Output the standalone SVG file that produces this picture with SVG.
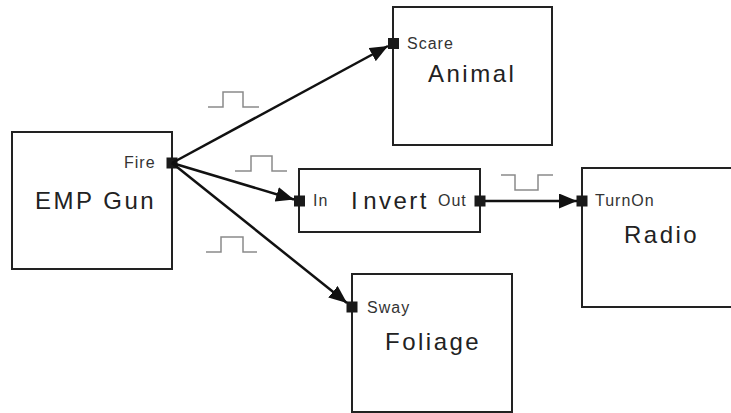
<svg xmlns="http://www.w3.org/2000/svg" width="731" height="413" viewBox="0 0 731 413">
  <style>
    .box { fill: #ffffff; stroke: #222222; stroke-width: 2; }
    .port { fill: #1a1a1a; }
    .plabel { font-family: "Liberation Sans", Arial, sans-serif; font-size: 16px; fill: #333333; letter-spacing: 1px; }
    .title { font-family: "Liberation Sans", Arial, sans-serif; font-size: 24px; fill: #222222; letter-spacing: 2.5px; }
    .wire { stroke: #111111; stroke-width: 2.5; fill: none; marker-end: url(#arrow); }
    .pulse { stroke: #8a8a8a; stroke-width: 1.5; fill: none; }
  </style>
  <defs>
    <marker id="arrow" markerUnits="userSpaceOnUse" markerWidth="19" markerHeight="15" refX="18" refY="7.5" orient="auto">
      <path d="M0,0 L18,7.5 L0,15 z" fill="#111111"/>
    </marker>
  </defs>
  <rect width="731" height="413" fill="#ffffff"/>

  <g id="emp-gun">
    <rect class="box" x="12" y="132" width="160" height="137"/>
    <text class="plabel" x="124" y="168">Fire</text>
    <text class="title" x="35" y="209">EMP Gun</text>
    <rect class="port" x="166.5" y="157.5" width="11" height="11"/>
  </g>

  <g id="animal">
    <rect class="box" x="393" y="7" width="159" height="138"/>
    <text class="plabel" x="407" y="49">Scare</text>
    <text class="title" x="428" y="82">Animal</text>
    <rect class="port" x="388" y="38" width="11" height="11"/>
  </g>

  <g id="invert">
    <rect class="box" x="299" y="169" width="181" height="63"/>
    <text class="plabel" x="313" y="206">In</text>
    <text class="title" x="351" y="209">I<tspan dx="3">nvert</tspan></text>
    <text class="plabel" x="438" y="206">Out</text>
    <rect class="port" x="294" y="195.5" width="11" height="11"/>
    <rect class="port" x="474.5" y="195.5" width="11" height="11"/>
  </g>

  <g id="radio">
    <rect class="box" x="582" y="168" width="160" height="139"/>
    <text class="plabel" x="595" y="206">TurnOn</text>
    <text class="title" x="624" y="243">Radio</text>
    <rect class="port" x="576.5" y="195.5" width="11" height="11"/>
  </g>

  <g id="foliage">
    <rect class="box" x="352" y="274" width="160" height="138"/>
    <text class="plabel" x="367" y="313">Sway</text>
    <text class="title" x="385" y="350">Foliage</text>
    <rect class="port" x="346.5" y="301.5" width="11" height="11"/>
  </g>

  <g id="connectors">
    <line class="wire" x1="172" y1="163" x2="388" y2="46"/>
    <line class="wire" x1="172" y1="163" x2="294" y2="199.5"/>
    <line class="wire" x1="172" y1="163" x2="347" y2="303"/>
    <line class="wire" x1="485" y1="201" x2="577" y2="201"/>
  </g>

  <g id="signals">
    <polyline class="pulse" points="208,107 223,107 223,92 243,92 243,107 259,107"/>
    <polyline class="pulse" points="235,171 251,171 251,156 272,156 272,171 287,171"/>
    <polyline class="pulse" points="206,252 221,252 221,237 243,237 243,252 257,252"/>
    <polyline class="pulse" points="501,175 515,175 515,190 538,190 538,175 553,175"/>
  </g>
</svg>
